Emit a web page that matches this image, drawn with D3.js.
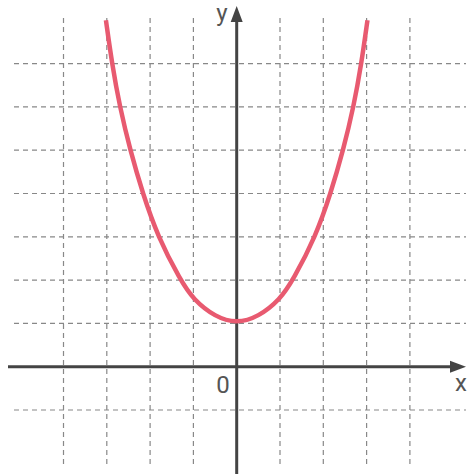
<!DOCTYPE html><html><head><script src="https://cdn.jsdelivr.net/npm/d3@7"></script>
<style>body{margin:0;background:#fff}</style></head><body><svg id="c" width="474" height="474"></svg><script>
const curveX=[-3.02,-2.88,-2.70,-2.46,-2.17,-1.82,-1.30,-1.0,-0.5,0,0.5,1.0,1.30,1.82,2.17,2.46,2.70,2.88,3.02];
const curveY=[8,7,6,5,4,3,2,1.55,1.15,1,1.15,1.55,2,3,4,5,6,7,8];
const gridX=[-4,-3,-2,-1,1,2,3,4];
const gridY=[-1,1,2,3,4,5,6,7];
const svg=d3.select("#c");
const x=d3.scaleLinear().domain([0,1]).range([236.7,280]);
const y=d3.scaleLinear().domain([0,1]).range([366.7,323.4]);
const g=svg.append("g").attr("stroke","#888").attr("stroke-width",1.2).attr("stroke-dasharray","5,4");
gridX.forEach(v=>g.append("line").attr("x1",x(v)).attr("x2",x(v)).attr("y1",18).attr("y2",468));
gridY.forEach(v=>g.append("line").attr("x1",14).attr("x2",466).attr("y1",y(v)).attr("y2",y(v)));
const ax="#444";
svg.append("line").attr("x1",8).attr("x2",452).attr("y1",y(0)).attr("y2",y(0)).attr("stroke",ax).attr("stroke-width",3);
svg.append("path").attr("d",`M466,${y(0)} L450,${y(0)-6} L450,${y(0)+6}Z`).attr("fill",ax);
svg.append("line").attr("x1",x(0)).attr("x2",x(0)).attr("y1",474).attr("y2",22).attr("stroke",ax).attr("stroke-width",3);
svg.append("path").attr("d",`M${x(0)},6 L${x(0)-6},22 L${x(0)+6},22Z`).attr("fill",ax);
const pts=curveX.map((v,i)=>[x(v),y(curveY[i])]);
svg.append("path").attr("d",d3.line().curve(d3.curveBasis)(pts)).attr("fill","none").attr("stroke","#e85a70").attr("stroke-width",4.5);
const t=(tx,px,py)=>svg.append("text").attr("x",px).attr("y",py).text(tx).attr("font-family","Roboto, sans-serif").attr("font-size",24).attr("fill","#555").attr("text-anchor","middle");
t("y",222,21);t("0",223,393);t("x",461,391);
</script></body></html>
